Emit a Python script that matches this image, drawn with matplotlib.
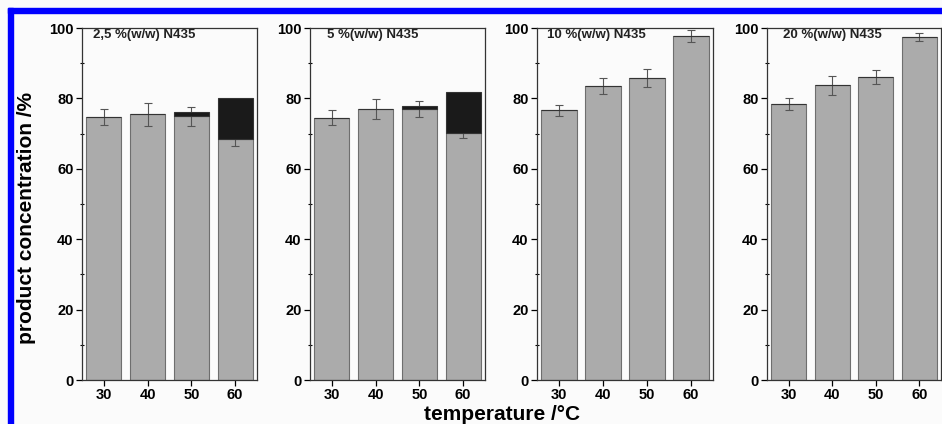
import matplotlib
matplotlib.use('Agg')
import matplotlib.pyplot as plt
from matplotlib.patches import Rectangle
from matplotlib.ticker import MultipleLocator

plt.rcParams['font.family'] = ['Liberation Sans', 'DejaVu Sans']
plt.rcParams['font.weight'] = 'bold'

temperatures = [30, 40, 50, 60]
panel_titles = ['2,5 %(w/w) N435', '5 %(w/w) N435', '10 %(w/w) N435', '20 %(w/w) N435']

# grey part of each bar (product), its error and the black part stacked on top
product = [
    [74.7, 75.5, 74.9, 68.4],
    [74.5, 77.0, 76.9, 70.3],
    [76.6, 83.5, 85.8, 97.7],
    [78.4, 83.7, 86.1, 97.4],
]
product_err = [
    [2.2, 3.2, 2.6, 1.8],
    [2.1, 2.9, 2.3, 1.6],
    [1.5, 2.3, 2.5, 1.8],
    [1.8, 2.7, 2.0, 1.2],
]
black_part = [
    [0.0, 0.0, 1.2, 11.6],
    [0.0, 0.0, 0.9, 11.5],
    [0.0, 0.0, 0.0, 0.0],
    [0.0, 0.0, 0.0, 0.0],
]

W, H = 942, 424
fig = plt.figure(figsize=(W / 100, H / 100), dpi=100)
fig.patch.set_facecolor('#fbfbfb')

# blue frame at top and left
fig.patches.append(Rectangle((8 / W, 1 - 13 / H), 1 - 8 / W, 5 / H, transform=fig.transFigure,
                             color='#0000ff', zorder=0))
fig.patches.append(Rectangle((8 / W, 0), 5 / W, 1 - 8 / H, transform=fig.transFigure,
                             color='#0000ff', zorder=0))

lefts = [82, 310, 537, 767]
widths = [175, 175, 176, 174]
title_x = [0.063, 0.097, 0.057, 0.092]
bottom, top = 380, 28

for i in range(4):
    ax = fig.add_axes([lefts[i] / W, (H - bottom) / H, widths[i] / W, (bottom - top) / H])
    ax.set_facecolor('#fbfbfb')
    ax.bar(temperatures, product[i], width=8, color='#ababab', edgecolor='#6e6e6e', linewidth=0.8,
           yerr=product_err[i], error_kw=dict(ecolor='#555555', elinewidth=0.8, capsize=3, capthick=0.8),
           zorder=2)
    ax.bar(temperatures, black_part[i], width=8, bottom=product[i], color='#1a1a1a',
           edgecolor='#333333', linewidth=0.8, zorder=3)
    ax.set_xlim(25, 65)
    ax.set_ylim(0, 100)
    ax.set_xticks(temperatures)
    ax.yaxis.set_major_locator(MultipleLocator(20))
    ax.yaxis.set_minor_locator(MultipleLocator(10))
    ax.tick_params(axis='both', which='major', direction='out', length=4, width=0.9,
                   labelsize=10.5, pad=2)
    ax.tick_params(axis='y', which='minor', direction='inout', length=3, width=0.8)
    for lab in ax.get_xticklabels() + ax.get_yticklabels():
        lab.set_fontweight('bold')
    for sp in ax.spines.values():
        sp.set_linewidth(0.9)
        sp.set_color('#333333')
    ax.text(title_x[i], 0.996, panel_titles[i], transform=ax.transAxes, fontsize=9.5,
            fontweight='bold', va='top', ha='left', color='#222222')

fig.text(27 / W, 0.485, 'product concentration /%', rotation=90, fontsize=15,
         fontweight='bold', ha='center', va='center')
fig.text(502 / W, 4 / H, 'temperature /\u00b0C', fontsize=15, fontweight='bold',
         ha='center', va='baseline')

fig.savefig('out.png', dpi=100, facecolor=fig.get_facecolor())
